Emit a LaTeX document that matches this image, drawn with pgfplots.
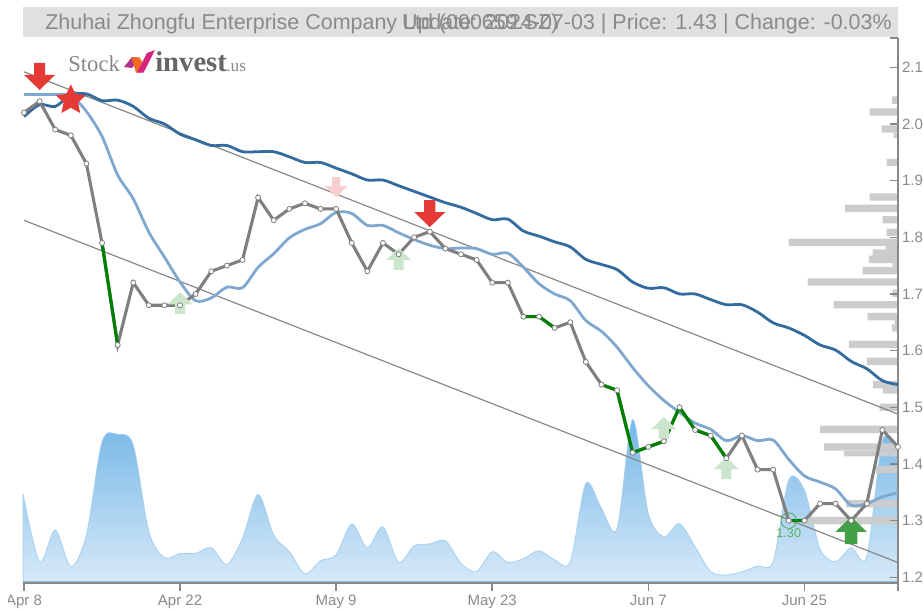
\documentclass[border=0pt]{standalone}
\usepackage{pgfplots}
\usepackage{fontspec}
\pgfplotsset{compat=1.18}
\setmainfont{Liberation Sans}
\newfontfamily\logofont{Liberation Serif}
\definecolor{axisgray}{HTML}{888888}
\definecolor{txtgray}{HTML}{8A8A8A}
\definecolor{band}{HTML}{E0E0E0}
\definecolor{maDark}{HTML}{336B9F}
\definecolor{maLight}{HTML}{7FA8D0}
\definecolor{closeGray}{HTML}{7F7F7F}
\definecolor{upGreen}{HTML}{008000}
\definecolor{barGray}{HTML}{CCCCCC}
\definecolor{aRed}{HTML}{E53935}
\definecolor{aPink}{HTML}{FACDCF}
\definecolor{aLGreen}{HTML}{CBE6CC}
\definecolor{aDGreen}{HTML}{43A047}
\definecolor{HTMLtop}{HTML}{74B6E6}
\definecolor{HTMLbot}{HTML}{D6E9F8}
\definecolor{HTMLline}{HTML}{A6D0F0}
\definecolor{HTMLbase}{HTML}{8FC3EC}
\definecolor{HTMLpur}{HTML}{B5308C}
\definecolor{HTMLora}{HTML}{F26B21}
\definecolor{HTMLpnk}{HTML}{D6247E}

\pgfdeclareplotmark{arrdn}{%
 \pgfpathmoveto{\pgfqpoint{0pt}{0pt}}%
 \pgfpathlineto{\pgfqpoint{1\pgfplotmarksize}{0.97\pgfplotmarksize}}%
 \pgfpathlineto{\pgfqpoint{0.36\pgfplotmarksize}{0.97\pgfplotmarksize}}%
 \pgfpathlineto{\pgfqpoint{0.36\pgfplotmarksize}{1.744\pgfplotmarksize}}%
 \pgfpathlineto{\pgfqpoint{-0.36\pgfplotmarksize}{1.744\pgfplotmarksize}}%
 \pgfpathlineto{\pgfqpoint{-0.36\pgfplotmarksize}{0.97\pgfplotmarksize}}%
 \pgfpathlineto{\pgfqpoint{-1\pgfplotmarksize}{0.97\pgfplotmarksize}}%
 \pgfpathclose\pgfusepathqfill}
\pgfdeclareplotmark{arrup}{%
 \pgfpathmoveto{\pgfqpoint{0pt}{0pt}}%
 \pgfpathlineto{\pgfqpoint{1\pgfplotmarksize}{-0.97\pgfplotmarksize}}%
 \pgfpathlineto{\pgfqpoint{0.4\pgfplotmarksize}{-0.97\pgfplotmarksize}}%
 \pgfpathlineto{\pgfqpoint{0.4\pgfplotmarksize}{-1.744\pgfplotmarksize}}%
 \pgfpathlineto{\pgfqpoint{-0.4\pgfplotmarksize}{-1.744\pgfplotmarksize}}%
 \pgfpathlineto{\pgfqpoint{-0.4\pgfplotmarksize}{-0.97\pgfplotmarksize}}%
 \pgfpathlineto{\pgfqpoint{-1\pgfplotmarksize}{-0.97\pgfplotmarksize}}%
 \pgfpathclose\pgfusepathqfill}
\pgfdeclareplotmark{bigstar}{%
 \pgfpathmoveto{\pgfqpointpolar{90}{\pgfplotmarksize}}%
 \pgfpathlineto{\pgfqpointpolar{126}{0.48\pgfplotmarksize}}%
 \pgfpathlineto{\pgfqpointpolar{162}{\pgfplotmarksize}}%
 \pgfpathlineto{\pgfqpointpolar{198}{0.48\pgfplotmarksize}}%
 \pgfpathlineto{\pgfqpointpolar{234}{\pgfplotmarksize}}%
 \pgfpathlineto{\pgfqpointpolar{270}{0.48\pgfplotmarksize}}%
 \pgfpathlineto{\pgfqpointpolar{306}{\pgfplotmarksize}}%
 \pgfpathlineto{\pgfqpointpolar{342}{0.48\pgfplotmarksize}}%
 \pgfpathlineto{\pgfqpointpolar{18}{\pgfplotmarksize}}%
 \pgfpathlineto{\pgfqpointpolar{54}{0.48\pgfplotmarksize}}%
 \pgfpathclose\pgfusepathqfill}

\pgfplotstableread{
i close
0 2.02
1 2.04
2 1.99
3 1.98
4 1.93
5 1.79
6 1.61
7 1.72
8 1.68
9 1.68
10 1.68
11 1.70
12 1.74
13 1.75
14 1.76
15 1.87
16 1.83
17 1.85
18 1.86
19 1.85
20 1.85
21 1.79
22 1.74
23 1.79
24 1.77
25 1.80
26 1.81
27 1.78
28 1.77
29 1.76
30 1.72
31 1.72
32 1.66
33 1.66
34 1.64
35 1.65
36 1.58
37 1.54
38 1.53
39 1.42
40 1.43
41 1.44
42 1.50
43 1.46
44 1.45
45 1.41
46 1.45
47 1.39
48 1.39
49 1.30
50 1.30
51 1.33
52 1.33
53 1.30
54 1.33
55 1.46
56 1.43
}\closeT

\pgfplotstableread{
i ma
0 2.013
1 2.034
2 2.031
3 2.051
4 2.053
5 2.041
6 2.042
7 2.031
8 2.010
9 2.000
10 1.982
11 1.972
12 1.962
13 1.962
14 1.951
15 1.951
16 1.951
17 1.942
18 1.932
19 1.932
20 1.922
21 1.912
22 1.901
23 1.901
24 1.891
25 1.881
26 1.871
27 1.861
28 1.853
29 1.842
30 1.831
31 1.832
32 1.811
33 1.802
34 1.792
35 1.783
36 1.761
37 1.752
38 1.743
39 1.721
40 1.710
41 1.711
42 1.700
43 1.700
44 1.690
45 1.681
46 1.681
47 1.668
48 1.649
49 1.640
50 1.627
51 1.610
52 1.601
53 1.581
54 1.568
55 1.547
56 1.540
}\maDarkT

\pgfplotstableread{
i ma
0 2.052
1 2.052
2 2.052
3 2.050
4 2.022
5 1.978
6 1.910
7 1.868
8 1.809
9 1.765
10 1.721
11 1.688
12 1.693
13 1.712
14 1.711
15 1.747
16 1.771
17 1.799
18 1.814
19 1.824
20 1.844
21 1.842
22 1.821
23 1.821
24 1.808
25 1.796
26 1.786
27 1.780
28 1.781
29 1.780
30 1.770
31 1.772
32 1.747
33 1.718
34 1.700
35 1.688
36 1.653
37 1.634
38 1.606
39 1.570
40 1.538
41 1.512
42 1.491
43 1.472
44 1.461
45 1.441
46 1.450
47 1.441
48 1.442
49 1.408
50 1.379
51 1.368
52 1.356
53 1.327
54 1.330
55 1.342
56 1.349
}\maLightT

\pgfplotstableread{
i vol
-0.06 87.7
1 20
2 51.7
3 15
4 46.7
5 140
6 147.3
7 136.7
8 50
9 24
10 28.3
11 28.3
12 34
13 17.3
14 43.3
15 87.3
16 46.7
17 30
18 8
19 21
20 26.7
21 57.7
22 34
23 55
24 19.3
25 36
26 37.7
27 41
28 18.3
29 10
30 30
31 19.3
32 23
33 31
34 21.7
35 20
36 98.3
37 73.3
38 53
39 162.3
40 68
41 45
42 58
43 35
44 10
45 6.7
46 10
47 15.7
48 20
49 101.7
50 91.7
51 33
52 20
53 34
54 25
55 141
56 135
}\volT

\pgfplotstableread{
len price
5.8 2.042
28.5 2.021
16.5 1.991
11.5 1.932
28.5 1.871
52.8 1.851
15.5 1.831
11.5 1.809
109.5 1.791
25.5 1.772
29.2 1.761
35.5 1.741
90.5 1.721
5.5 1.701
64.5 1.681
30.5 1.660
5.8 1.640
49.2 1.611
31.2 1.581
24.8 1.540
18.5 1.500
77.8 1.461
73.8 1.430
21.8 1.390
52 1.330
93.5 1.300
}\barsTall
\pgfplotstableread{
len price
4.5 1.980
12.5 1.781
5.5 1.751
3.5 1.650
15.2 1.529
54.2 1.418
}\barsShort

\pgfplotsset{base/.style={
  at={(17.25pt,20.25pt)}, anchor=south west, scale only axis,
  width=656.25pt, height=408.75pt,
}}
\begin{document}
\begin{tikzpicture}
\useasboundingbox (0,0) rectangle (692.25pt,457.5pt);
% title band
\begin{scope}[x=0.75pt,y=-0.75pt,yshift=457.5pt]
\fill[band] (23,7) rectangle (898,37);
\end{scope}
% volume area
\begin{axis}[base, hide axis, clip=false, xmin=-0.064, xmax=56, ymin=-1.3, ymax=543.7]
\addplot[smooth, tension=0.5, shade, top color=HTMLtop, bottom color=HTMLbot, draw=HTMLline, line width=0.6pt] table[x=i,y=vol]{\volT} \closedcycle;
\addplot[draw=HTMLbase, line width=1.2pt] coordinates {(-0.06,0) (56,0)};
\end{axis}
% volume profile bars
\begin{axis}[base, hide axis, clip=false, x dir=reverse, xmin=0, xmax=875, ymin=1.1899, ymax=2.1517, xbar, bar shift=0pt]
\addplot[fill=barGray, draw=none, bar width=5.5pt] table[x=len,y=price]{\barsTall};
\addplot[fill=barGray, draw=none, bar width=4pt] table[x=len,y=price]{\barsShort};
\end{axis}
% main
\begin{axis}[base, clip=false, xmin=-0.064, xmax=56, ymin=1.1899, ymax=2.1517,
  axis x line*=bottom, axis y line*=right,
  axis line style={draw=axisgray, line width=1.1pt},
  tick align=inside, tick style={draw=axisgray, line width=1.1pt},
  major tick length=6pt,
  x tick style={yshift=-6pt},
  xtick={0,10,20,30,40,50,56},
  xticklabels={Apr 8,Apr 22,May 9,May 23,Jun 7,Jun 25,},
  ytick={1.2,1.3,1.4,1.5,1.6,1.7,1.8,1.9,2.0,2.1},
  yticklabel style={/pgf/number format/fixed, /pgf/number format/fixed zerofill, /pgf/number format/precision=1, /pgf/number format/assume math mode=true, font=\fontsize{11.25pt}{13pt}\selectfont, text=txtgray, xshift=-0.5pt},
  xticklabel style={font=\fontsize{11.25pt}{13pt}\selectfont, text=txtgray, yshift=-5.5pt},
  extra y ticks={2.1517}, extra y tick labels={},
]
% channel
\addplot[color=axisgray, line width=0.9pt] coordinates {(0,2.092) (56,1.488)};
\addplot[color=axisgray, line width=0.9pt] coordinates {(0,1.830) (56,1.226)};
% faint signals
\addplot[only marks, mark=arrup, mark size=9.4pt, color=aLGreen] coordinates {(10,1.703) (24,1.781) (41,1.483) (45,1.412)};
\addplot[only marks, mark=arrdn, mark size=8.6pt, color=aPink] coordinates {(20,1.871)};
% moving averages
\addplot[smooth, tension=0.5, color=maLight, line width=2.1pt] table[x=i,y=ma]{\maLightT};
\addplot[smooth, tension=0.5, color=maDark, line width=2.1pt] table[x=i,y=ma]{\maDarkT};
% strong signals
\addplot[only marks, mark=arrdn, mark size=11.6pt, color=aRed] coordinates {(1,2.06) (26,1.818)};
\addplot[only marks, mark=bigstar, mark size=11.9pt, color=aRed] coordinates {(3,2.042)};
\addplot[only marks, mark=arrup, mark size=11.8pt, color=aDGreen] coordinates {(53,1.307)};
% close
\addplot[color=closeGray, line width=2.3pt] table[x=i,y=close]{\closeT};
\addplot[color=upGreen, line width=2.4pt] coordinates {(5,1.79) (6,1.61)};
\addplot[color=upGreen, line width=2.4pt] coordinates {(32,1.66) (33,1.66) (34,1.64)};
\addplot[color=upGreen, line width=2.4pt] coordinates {(37.2,1.538) (38,1.53) (39,1.42) (40,1.43) (41,1.44) (42,1.50) (43,1.46) (44,1.45) (45,1.41)};
\addplot[color=upGreen, line width=2.4pt] coordinates {(49.2,1.30) (50,1.30)};
\addplot[only marks, mark=*, mark size=1.9pt, mark options={fill=white, draw=closeGray, line width=0.6pt}] table[x=i,y=close]{\closeT};
% low
\addplot[only marks, mark=o, mark size=5.8pt, mark options={draw=aDGreen, line width=0.5pt},
  nodes near coords={1.30}, nodes near coords align={below},
  every node near coord/.append style={font=\fontsize{9.5pt}{11pt}\selectfont, text=aDGreen!85, yshift=-2.5pt}] coordinates {(49,1.30)};
\end{axis}
\begin{scope}[x=0.75pt,y=-0.75pt,yshift=457.5pt]
% clipped edge of the first label
\fill[white] (0,590) rectangle (7.5,610);
% axis foot
\draw[axisgray, line width=1.1pt] (898.5,583) -- (898.5,590);
% titles
\node[anchor=base west, inner sep=0, text=txtgray] at (45,30) {\fontsize{16.1pt}{18pt}\selectfont Zhuhai Zhongfu Enterprise Company Ltd (000659.SZ)};
\node[anchor=base east, inner sep=0, text=txtgray] at (892,30) {\fontsize{16.1pt}{18pt}\selectfont Update: 2024-07-03 | Price: 1.43 | Change: -0.03\%};
% logo
\node[anchor=base west, inner sep=0, text=axisgray] at (68,72) {\logofont\fontsize{17pt}{18pt}\selectfont Stock};
\node[anchor=base west, inner sep=0, text=black!60] at (155,72) {\logofont\bfseries\fontsize{21.5pt}{22pt}\selectfont invest};
\node[anchor=base west, inner sep=0, text=axisgray] at (226,72) {\logofont\fontsize{13pt}{16pt}\selectfont .us};
\fill[HTMLpur] (124,67) -- (132,57) -- (140,58) -- (132,68) -- cycle;
\fill[HTMLora] (131.5,57.5) -- (139.5,57.5) -- (144.5,66) -- (141,72.7) -- (136,72.7) -- cycle;
\fill[HTMLpnk] (137,72.7) -- (147,53) -- (155,50) -- (143.5,72.7) -- cycle;
\end{scope}
\end{tikzpicture}
\end{document}
